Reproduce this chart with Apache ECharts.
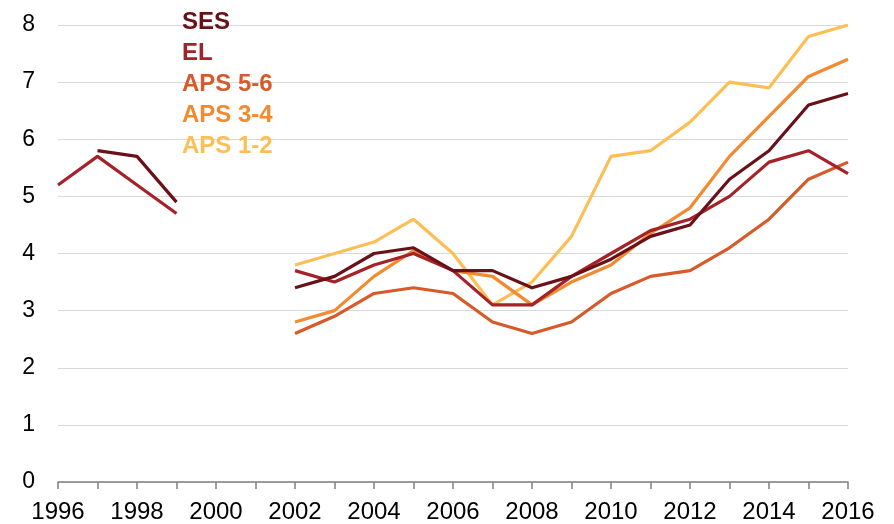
<!DOCTYPE html>
<html>
<head>
<meta charset="utf-8">
<script src="https://cdn.jsdelivr.net/npm/echarts@6/dist/echarts.min.js"></script>
<style>html,body{margin:0;padding:0;background:#fff}#c{width:894px;height:524px}</style>
</head>
<body>
<div id="c"></div>
<script>
var years = ['1996','1997','1998','1999','2000','2001','2002','2003','2004','2005','2006','2007','2008','2009','2010','2011','2012','2013','2014','2015','2016'];
var seriesNames = ['SES','EL','APS 5-6','APS 3-4','APS 1-2'];
var ses   = [null,5.8,5.7,4.9,null,null,3.4,3.6,4.0,4.1,3.7,3.7,3.4,3.6,3.9,4.3,4.5,5.3,5.8,6.6,6.8];
var el    = [5.2,5.7,5.2,4.7,null,null,3.7,3.5,3.8,4.0,3.7,3.1,3.1,3.6,4.0,4.4,4.6,5.0,5.6,5.8,5.4];
var aps56 = [null,null,null,null,null,null,2.6,2.9,3.3,3.4,3.3,2.8,2.6,2.8,3.3,3.6,3.7,4.1,4.6,5.3,5.6];
var aps34 = [null,null,null,null,null,null,2.8,3.0,3.6,4.05,3.7,3.6,3.1,3.5,3.8,4.35,4.8,5.7,6.4,7.1,7.4];
var aps12 = [null,null,null,null,null,null,3.8,4.0,4.2,4.6,4.0,3.1,3.5,4.3,5.7,5.8,6.3,7.0,6.9,7.8,8.0];
var colors = ['#6A1018','#A52228','#D65A2A','#F28A30','#FDBF55'];
var allData = [ses, el, aps56, aps34, aps12];

var chart = echarts.init(document.getElementById('c'));
var series = seriesNames.map(function(n,i){
  return {name:n,type:'line',data:allData[i],symbol:'none',connectNulls:false,
    lineStyle:{width:3.2,color:colors[i]},itemStyle:{color:colors[i]},z:10-i};
});
chart.setOption({
  animation:false,
  color:colors,
  grid:{left:58,right:46,top:25,bottom:42},
  legend:{
    orient:'vertical',left:172,top:2,itemGap:0,itemWidth:0,itemHeight:0,icon:'rect',
    selectedMode:false,
    data:seriesNames.map(function(n,i){return {name:n,textStyle:{color:colors[i]}};}),
    textStyle:{fontFamily:'Liberation Sans, Arial, sans-serif',fontSize:24,fontWeight:'bold',lineHeight:31}
  },
  xAxis:{
    type:'category',data:years,boundaryGap:false,
    axisLine:{lineStyle:{color:'#808080',width:1.5}},
    axisTick:{interval:0,length:7,lineStyle:{color:'#808080',width:1.5}},
    axisLabel:{interval:1,color:'#000',fontSize:24,fontFamily:'Liberation Sans, Arial, sans-serif',margin:18},
    splitLine:{show:false}
  },
  yAxis:{
    type:'value',min:0,max:8,interval:1,
    axisLine:{show:false},axisTick:{show:false},
    axisLabel:{color:'#000',fontSize:23,fontFamily:'Liberation Sans, Arial, sans-serif',margin:23},
    splitLine:{lineStyle:{color:'#d9d9d9',width:1}}
  },
  series:series
});
</script>
</body>
</html>
